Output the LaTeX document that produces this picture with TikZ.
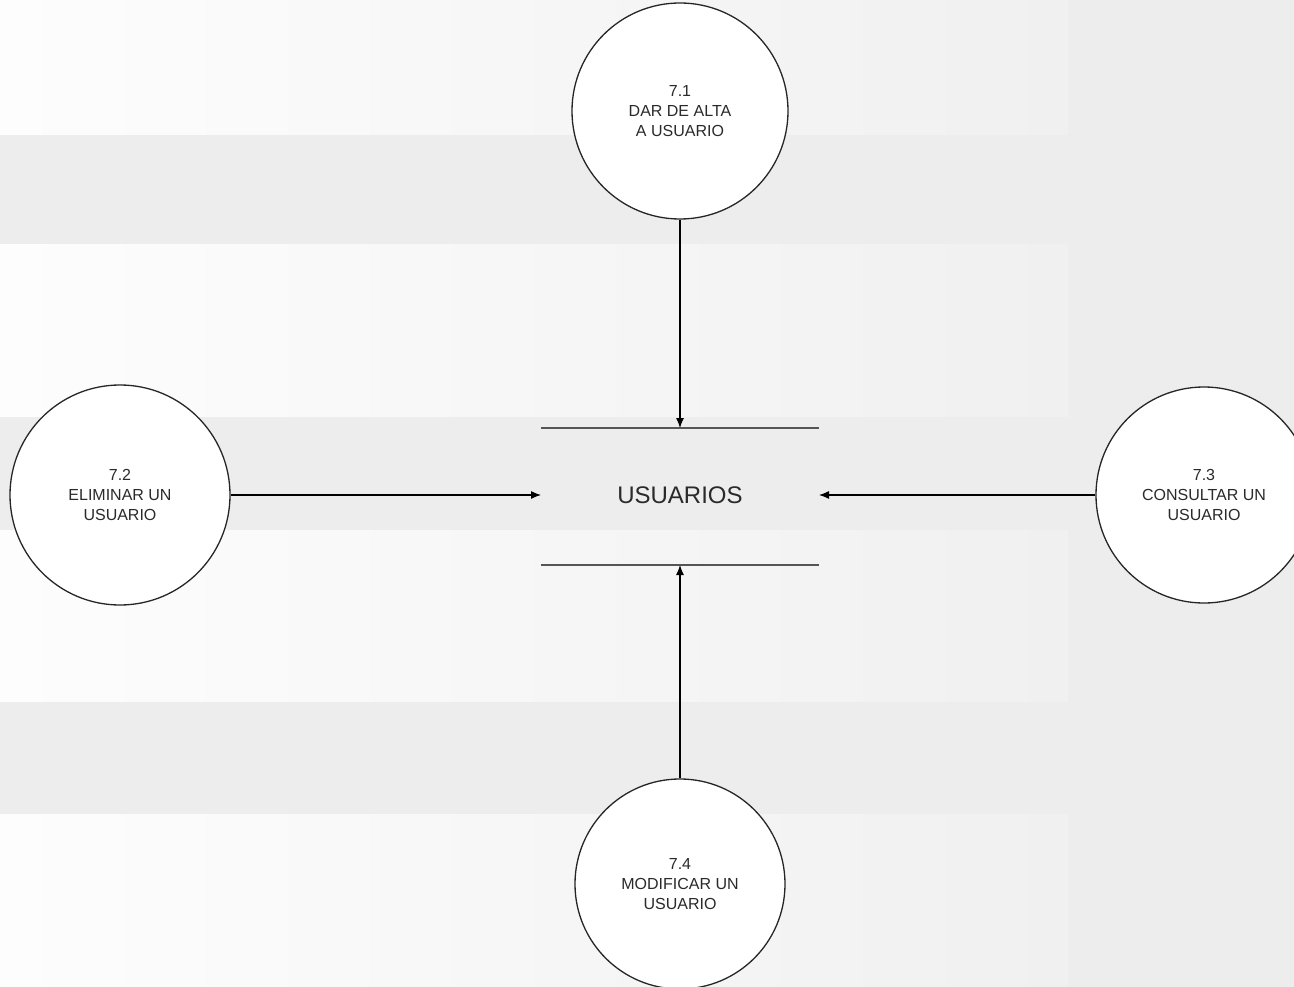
\documentclass[tikz,border=0pt]{standalone}
\usepackage{fontspec}
\setmainfont{Liberation Sans}
\usetikzlibrary{arrows.meta}
\definecolor{bandgray}{HTML}{EDEDED}
\definecolor{lightleft}{HTML}{FDFDFD}
\definecolor{lightright}{HTML}{F0F0F0}
\definecolor{storeline}{HTML}{555555}
\definecolor{inktext}{HTML}{2A2A2A}
\tikzset{
  process/.style={circle, draw=black!85, line width=1.3pt, fill=white,
    minimum size=216pt, inner sep=0pt, align=center, text=inktext,
    font=\fontsize{16}{20}\selectfont},
  flow/.style={draw=black, line width=1.2pt, -{Latex[length=10pt,width=8pt]}},
  storeedge/.style={draw=storeline, line width=2.2pt},
  lightband/.style={left color=lightleft, right color=lightright, draw=none}
}
\begin{document}
\begin{tikzpicture}[x=1pt,y=-1pt]
  \useasboundingbox (0,0) rectangle (1294,987);
  \clip (0,0) rectangle (1294,987);
  % striped backdrop
  \fill[bandgray] (0,0) rectangle (1294,987);
  \fill[lightband] (0,0) rectangle (1068,135);
  \fill[lightband] (0,245) rectangle (1068,416);
  \fill[lightband] (0,530) rectangle (1068,701);
  \fill[lightband] (0,814) rectangle (1068,987);

  % data store
  \node[font=\fontsize{24}{28}\selectfont, text=inktext] (store) at (680,495) {USUARIOS};
  \coordinate (stl) at (541,428);
  \coordinate (str) at (819,428);
  \coordinate (sbl) at (541,565);
  \coordinate (sbr) at (819,565);
  \coordinate (stop) at (680,428);
  \coordinate (sbot) at (680,565);
  \coordinate (sleft) at (541,495);
  \coordinate (sright) at (819,495);
  \draw[storeedge] (stl) -- (str);
  \draw[storeedge] (sbl) -- (sbr);

  % processes
  \node[process] (p1) at (680,111) {7.1\\DAR DE ALTA\\A USUARIO};
  \node[process, minimum size=220pt] (p2) at (120,495) {7.2\\ELIMINAR UN\\USUARIO};
  \node[process] (p3) at (1204,495) {7.3\\CONSULTAR UN\\USUARIO};
  \node[process, minimum size=210pt] (p4) at (680,884) {7.4\\MODIFICAR UN\\USUARIO};

  % flows into the store
  \draw[flow] (p1.south) -- (stop);
  \draw[flow] (p2.east) -- (sleft);
  \draw[flow] (p3.west) -- (sright);
  \draw[flow] (p4.north) -- (sbot);
\end{tikzpicture}
\end{document}
